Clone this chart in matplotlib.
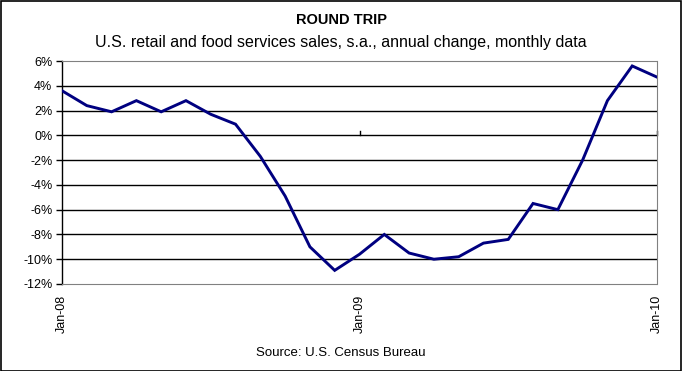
import matplotlib
matplotlib.use("Agg")
import matplotlib.pyplot as plt
from matplotlib.patches import Rectangle

months = list(range(25))
values = [3.6, 2.4, 1.9, 2.8, 1.9, 2.8, 1.7, 0.9, -1.7, -4.9, -9.0, -10.9,
          -9.6, -8.0, -9.5, -10.0, -9.8, -8.7, -8.4, -5.5, -6.0, -2.0, 2.8, 5.6, 4.7]
xtick_pos = [0, 12, 24]
xtick_labels = ["Jan-08", "Jan-09", "Jan-10"]
yticks = [6, 4, 2, 0, -2, -4, -6, -8, -10, -12]

plt.rcParams['font.family'] = ['Liberation Sans', 'DejaVu Sans']

W, H = 682, 371
fig = plt.figure(figsize=(W/100, H/100), dpi=100)
fig.patches.append(Rectangle((0.5/W, 0.5/H), 1-1.5/W, 1-1.5/H, transform=fig.transFigure,
                             fill=False, edgecolor='black', linewidth=1.2))

left, right, top, bottom = 62, 657, 61, 284
ax = fig.add_axes([left/W, 1-bottom/H, (right-left)/W, (bottom-top)/H])
ax.set_xlim(0, 24)
ax.set_ylim(-12, 6)

for y in yticks:
    if y in (6, -12):
        continue
    ax.axhline(y, color='black', linewidth=1.0, zorder=1)

ax.plot(months, values, color='#000080', linewidth=2.1, zorder=3, solid_joinstyle='miter')

for s in ['top', 'right', 'bottom']:
    ax.spines[s].set_color('#808080')
    ax.spines[s].set_linestyle((0, (1, 1)))
    ax.spines[s].set_linewidth(0.8)
ax.spines['left'].set_color('black')
ax.spines['left'].set_linewidth(1.0)

ax.set_yticks(yticks)
ax.set_yticklabels([f"{y}%" for y in yticks], fontsize=9)
ax.tick_params(axis='y', length=4, width=1, direction='out', pad=3)

ax.set_xticks(xtick_pos)
ax.set_xticklabels(xtick_labels, rotation=90, fontsize=9)
ax.tick_params(axis='x', length=0, pad=8)
# small tick marks on zero line
for xp in xtick_pos[1:]:
    ax.plot([xp, xp], [0, 0.35], color='black', linewidth=1, zorder=2, clip_on=False)

fig.text(0.5, 1-20/H, "ROUND TRIP", ha='center', va='center', fontsize=10.5, fontweight='bold')
fig.text(0.5, 1-42/H, "U.S. retail and food services sales, s.a., annual change, monthly data",
         ha='center', va='center', fontsize=11.5)
fig.text(0.5, 1-353/H, "Source: U.S. Census Bureau", ha='center', va='center', fontsize=9.5)

fig.savefig("out.png", dpi=100)
